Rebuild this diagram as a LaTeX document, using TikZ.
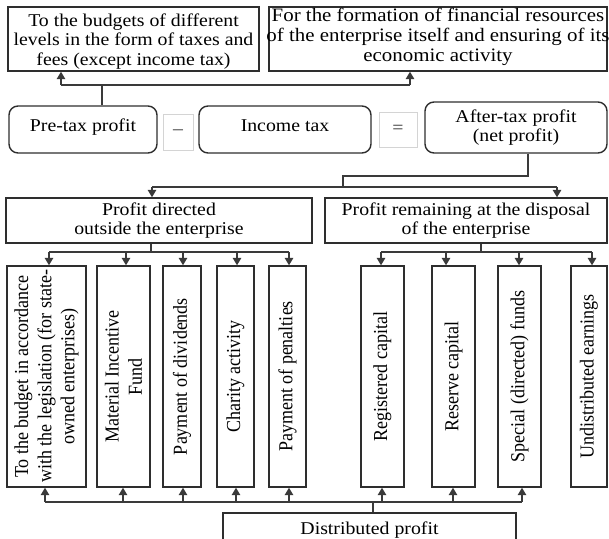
\documentclass[tikz,border=0pt]{standalone}
\usepackage{fontspec}
\setmainfont{Liberation Serif}[FakeStretch=1.1]
\newfontfamily\vfont{Liberation Serif}
\usetikzlibrary{arrows.meta}
\definecolor{boxc}{HTML}{2E2E2E}
\definecolor{linec}{HTML}{3A3A3A}
\definecolor{grayc}{HTML}{D4D4D4}
\begin{document}
\begin{tikzpicture}[x=1pt,y=-1pt,
  font=\fontsize{18}{19.5}\selectfont, text=black,
  bx/.style={draw=boxc, line width=1.4pt, inner sep=0pt, align=center},
  rbx/.style={bx, rounded corners=9pt},
  gbx/.style={draw=grayc, line width=0.8pt, inner sep=0pt},
  txt/.style={align=center, inner sep=0pt},
  ln/.style={draw=linec, line width=1.5pt},
  ar/.style={ln, -{Triangle[length=7.5pt,width=8.5pt]}},
  vt/.style={font=\vfont\fontsize{18}{21}\selectfont, rotate=90, yscale=1.1, align=center, inner sep=0pt}]
\useasboundingbox (0,0) rectangle (609,538);
\clip (0,0) rectangle (609,538);

% top row
\node[bx, minimum width=251pt, minimum height=64pt] (A) at (133.5,39) {};
\node[txt] at ([yshift=-2.5pt]A.center) {To the budgets of different\\levels in the form of taxes and\\fees (except income tax)};
\node[bx, minimum width=338pt, minimum height=64pt] (B) at (438,39) {};
\node[txt, font=\fontsize{19}{20}\selectfont] at ([yshift=2pt]B.center) {For the formation of financial resources\\of the enterprise itself and ensuring of its\\economic activity};

% equation row
\node[rbx, minimum width=148pt, minimum height=47pt, text height=13pt, text depth=10pt] (P) at (83,129.5) {Pre-tax profit};
\node[gbx, minimum width=30pt, minimum height=36pt] (M) at (178,132) {\textcolor{boxc}{–}};
\node[rbx, minimum width=172pt, minimum height=47pt, text height=13pt, text depth=10pt] (I) at (285,129.5) {Income tax};
\node[gbx, minimum width=38pt, minimum height=35pt] (E) at (398,129.5) {\textcolor{boxc}{=}};
\node[rbx, minimum width=182pt, minimum height=51pt] (T) at (516,127.5) {After-tax profit\\(net profit)};

% second level
\node[bx, minimum width=306pt, minimum height=45pt] (C) at (159,220.5) {Profit directed\\outside the enterprise};
\node[bx, minimum width=282pt, minimum height=45pt] (D) at (466,220.5) {Profit remaining at the disposal\\of the enterprise};

% vertical boxes
\node[bx, minimum width=79pt, minimum height=221pt] (V1) at (46.5,376.5) {};
\node[vt] at (V1.center) {To the budget in accordance\\with the legislation (for state-\\owned enterprises)};
\node[bx, minimum width=53pt, minimum height=221pt] (V2) at (123.5,376.5) {};
\node[vt] at (V2.center) {Material Incentive\\Fund};
\node[bx, minimum width=38pt, minimum height=221pt] (V3) at (182,376.5) {};
\node[vt] at (V3.center) {Payment of dividends};
\node[bx, minimum width=37pt, minimum height=221pt] (V4) at (235.5,376.5) {};
\node[vt] at (V4.center) {Charity activity};
\node[bx, minimum width=37pt, minimum height=221pt] (V5) at (287.5,376.5) {};
\node[vt] at (V5.center) {Payment of penalties};
\node[bx, minimum width=43pt, minimum height=221pt] (V6) at (382.5,376.5) {};
\node[vt] at (V6.center) {Registered capital};
\node[bx, minimum width=43pt, minimum height=221pt] (V7) at (453.5,376.5) {};
\node[vt] at (V7.center) {Reserve capital};
\node[bx, minimum width=43pt, minimum height=221pt] (V8) at (519.5,376.5) {};
\node[vt] at (V8.center) {Special (directed) funds};
\node[bx, minimum width=36pt, minimum height=221pt] (V9) at (589,376.5) {};
\node[vt] at (V9.center) {Undistributed earnings};

% bottom
\node[bx, minimum width=293pt, minimum height=34pt] (DP) at (369.5,530) {Distributed profit};

% connectors: pre-tax profit to top boxes
\coordinate (busA) at (61,85);
\coordinate (busB) at (410,85);
\coordinate (busP) at (102,85);
\draw[ln] (P.north -| busP) -- (busP);
\draw[ln] (busA) -- (busB);
\draw[ar] (busA) -- (busA |- A.south);
\draw[ar] (busB) -- (busB |- B.south);

% after-tax profit to second level
\coordinate (k1) at (528,176);
\coordinate (k2) at (343,176);
\coordinate (c1) at (152,187);
\coordinate (d1) at (557,187);
\draw[ln] (T.south -| k1) -- (k1) -- (k2) -- (k2 |- c1);
\draw[ln] (c1) -- (d1);
\draw[ar] (c1) -- (c1 |- C.north);
\draw[ar] (d1) -- (d1 |- D.north);

% outside the enterprise
\coordinate (cs) at (151,252);
\coordinate (t1) at (49,252);
\coordinate (t2) at (126,252);
\coordinate (t3) at (183,252);
\coordinate (t4) at (237,252);
\coordinate (t5) at (289,252);
\draw[ln] (C.south -| cs) -- (cs);
\draw[ln] (t1) -- (t5);
\draw[ar] (t1) -- (t1 |- V1.north);
\draw[ar] (t2) -- (t2 |- V2.north);
\draw[ar] (t3) -- (t3 |- V3.north);
\draw[ar] (t4) -- (t4 |- V4.north);
\draw[ar] (t5) -- (t5 |- V5.north);

% disposal of the enterprise
\coordinate (ds) at (481,252);
\coordinate (t6) at (381,252);
\coordinate (t7) at (446,252);
\coordinate (t8) at (519,252);
\coordinate (t9) at (592,252);
\draw[ln] (D.south -| ds) -- (ds);
\draw[ln] (t6) -- (t9);
\draw[ar] (t6) -- (t6 |- V6.north);
\draw[ar] (t7) -- (t7 |- V7.north);
\draw[ar] (t8) -- (t8 |- V8.north);
\draw[ar] (t9) -- (t9 |- V9.north);

% distributed profit
\coordinate (bs) at (373,502);
\coordinate (b1) at (45,502);
\coordinate (b2) at (123,502);
\coordinate (b3) at (183,502);
\coordinate (b4) at (236,502);
\coordinate (b5) at (289,502);
\coordinate (b6) at (382,502);
\coordinate (b7) at (453,502);
\coordinate (b8) at (522,502);
\draw[ln] (DP.north -| bs) -- (bs);
\draw[ln] (b1) -- (b8);
\draw[ar] (b1) -- (b1 |- V1.south);
\draw[ar] (b2) -- (b2 |- V2.south);
\draw[ar] (b3) -- (b3 |- V3.south);
\draw[ar] (b4) -- (b4 |- V4.south);
\draw[ar] (b5) -- (b5 |- V5.south);
\draw[ar] (b6) -- (b6 |- V6.south);
\draw[ar] (b7) -- (b7 |- V7.south);
\draw[ar] (b8) -- (b8 |- V8.south);
\end{tikzpicture}
\end{document}
